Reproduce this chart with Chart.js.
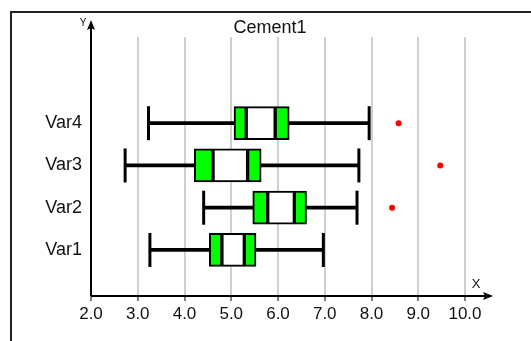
<!DOCTYPE html>
<html>
<head>
<meta charset="utf-8">
<script src="https://cdn.jsdelivr.net/npm/chart.js@4/dist/chart.umd.min.js"></script>
<style>
html,body{margin:0;padding:0;background:#fff;}
#c{display:block;}
</style>
</head>
<body>
<canvas id="c" width="531" height="341"></canvas>
<script>
// ---- data ----
const categories = ['Var1', 'Var2', 'Var3', 'Var4'];
const catPos = [1, 2, 3, 4];
const whiskerLow  = [3.26, 4.41, 2.73, 3.23];
const q1          = [4.53, 5.46, 4.21, 5.06];
const notchLow    = [4.80, 5.78, 4.61, 5.32];
const notchHigh   = [5.28, 6.35, 5.35, 5.94];
const q3          = [5.53, 6.61, 5.64, 6.24];
const whiskerHigh = [6.97, 7.69, 7.73, 7.95];
const outlierCat  = ['Var2', 'Var3', 'Var4'];
const outlierVal  = [8.44, 9.47, 8.58];
const xTickValues = [2, 3, 4, 5, 6, 7, 8, 9, 10];

const FONT = "'Liberation Sans', Arial, sans-serif";
const posOf = name => catPos[categories.indexOf(name)];
const seg = (a, b) => catPos.map((p, i) => ({ x: [a[i], b[i]], y: p }));
const pts = (a) => catPos.map((p, i) => ({ x: a[i], y: p }));

const barCommon = {
  type: 'bar', indexAxis: 'y', grouped: false,
  barThickness: 33, borderColor: '#000', borderWidth: 2, borderSkipped: false
};

const decor = {
  id: 'decor',
  beforeDraw(chart) {
    const ctx = chart.ctx;
    ctx.save();
    ctx.fillStyle = '#fff';
    ctx.fillRect(0, 0, chart.width, chart.height);
    ctx.strokeStyle = '#222';
    ctx.lineWidth = 2;
    ctx.beginPath();
    ctx.moveTo(11, chart.height); ctx.lineTo(11, 12); ctx.lineTo(chart.width, 12);
    ctx.stroke();
    ctx.restore();
  },
  afterDatasetsDraw(chart) {
    const ctx = chart.ctx;
    const xs = chart.scales.x;
    const x0 = xs.getPixelForValue(2);
    const y0 = chart.chartArea.bottom;
    ctx.save();
    ctx.strokeStyle = '#000';
    ctx.fillStyle = '#000';
    ctx.lineWidth = 2;
    // x axis
    ctx.beginPath();
    ctx.moveTo(x0, y0); ctx.lineTo(488, y0); ctx.stroke();
    ctx.beginPath();
    ctx.moveTo(493, y0); ctx.lineTo(483, y0 - 4); ctx.lineTo(485, y0); ctx.lineTo(483, y0 + 4); ctx.closePath(); ctx.fill();
    // y axis
    ctx.beginPath();
    ctx.moveTo(x0, y0); ctx.lineTo(x0, 26); ctx.stroke();
    ctx.beginPath();
    ctx.moveTo(x0, 20); ctx.lineTo(x0 - 4, 30); ctx.lineTo(x0, 28); ctx.lineTo(x0 + 4, 30); ctx.closePath(); ctx.fill();
    // labels
    ctx.fillStyle = '#111';
    ctx.textAlign = 'center';
    ctx.textBaseline = 'alphabetic';
    ctx.font = '18px ' + FONT;
    ctx.fillText('Cement1', 270, 33);
    ctx.font = '10px ' + FONT;
    ctx.fillText('Y', 83, 26);
    ctx.font = '13px ' + FONT;
    ctx.fillText('X', 476, 288);
    ctx.restore();
  }
};

new Chart(document.getElementById('c'), {
  type: 'bar',
  data: {
    datasets: [
      Object.assign({}, barCommon, { label: 'box low', data: seg(q1, notchLow), backgroundColor: '#00ff00', order: 1 }),
      Object.assign({}, barCommon, { label: 'box mid', data: seg(notchLow, notchHigh), backgroundColor: '#ffffff', order: 1 }),
      Object.assign({}, barCommon, { label: 'box high', data: seg(notchHigh, q3), backgroundColor: '#00ff00', order: 1 }),
      { type: 'bar', indexAxis: 'y', grouped: false, label: 'whisker', data: seg(whiskerLow, whiskerHigh),
        barThickness: 3, backgroundColor: '#000', borderWidth: 0, order: 5 },
      { type: 'scatter', label: 'cap low', data: pts(whiskerLow), pointStyle: 'line', rotation: 90,
        pointRadius: 17, borderColor: '#000', pointBorderWidth: 3, borderWidth: 3, order: 2 },
      { type: 'scatter', label: 'cap high', data: pts(whiskerHigh), pointStyle: 'line', rotation: 90,
        pointRadius: 17, borderColor: '#000', pointBorderWidth: 3, borderWidth: 3, order: 2 },
      { type: 'scatter', label: 'outliers', data: outlierCat.map((c, i) => ({ x: outlierVal[i], y: posOf(c) })),
        pointStyle: 'circle', pointRadius: 3, backgroundColor: '#ff0000', borderColor: '#ff0000', borderWidth: 0, order: 0 }
    ]
  },
  options: {
    responsive: false,
    animation: false,
    devicePixelRatio: 1,
    layout: { padding: { top: 37, right: 66, left: 0, bottom: 0 } },
    plugins: { legend: { display: false }, tooltip: { enabled: false }, title: { display: false } },
    scales: {
      x: {
        type: 'linear', min: 2, max: 10, offset: false,
        afterFit: s => { s.height = 45; },
        afterBuildTicks: s => { s.ticks = xTickValues.map(v => ({ value: v })); },
        grid: { offset: false, color: '#d0d0d0', lineWidth: 2, drawTicks: true, tickLength: 5, tickColor: '#000', tickWidth: 1 },
        border: { display: false },
        ticks: { color: '#111', font: { family: FONT, size: 17 }, padding: 3, maxRotation: 0,
                 callback: v => Number(v).toFixed(1) }
      },
      y: {
        type: 'linear', min: -0.09, max: 6.04, offset: false,
        afterFit: s => { s.width = 91; },
        afterBuildTicks: s => { s.ticks = catPos.map(v => ({ value: v })); },
        grid: { display: false, drawTicks: false, offset: false },
        border: { display: false },
        ticks: { color: '#111', font: { family: FONT, size: 18 }, padding: 9,
                 callback: v => categories[catPos.indexOf(v)] }
      }
    }
  },
  plugins: [decor]
});
</script>
</body>
</html>
